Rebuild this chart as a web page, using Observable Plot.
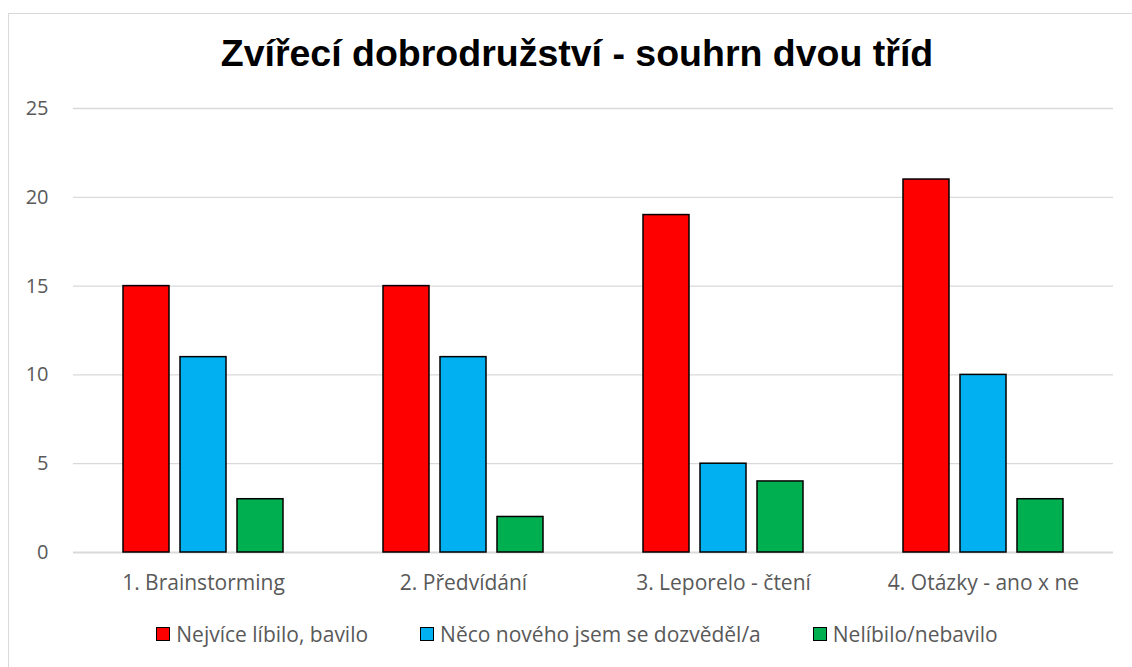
<!DOCTYPE html>
<html>
<head>
<meta charset="utf-8">
<script src="https://cdn.jsdelivr.net/npm/d3@7"></script>
<script src="https://cdn.jsdelivr.net/npm/@observablehq/plot@0.6"></script>
<style>
  html, body { margin: 0; padding: 0; background: #fff; }
  #wrap { position: relative; width: 1132px; height: 667px; overflow: hidden; }
  #frame { position: absolute; left: 8px; top: 13px; width: 1140px; height: 680px; border: 1px solid #d9d9d9; box-sizing: border-box; }
  #title { position: absolute; left: 0; top: 35px; width: 1154px; text-align: center; font-family: "Liberation Sans", Arial, sans-serif; font-weight: bold; font-size: 37.5px; line-height: 37.5px; color: #000; }
  #chart { position: absolute; left: 0; top: 90px; }
  #legend { position: absolute; left: 0; top: 620px; width: 1154px; display: flex; justify-content: center; gap: 52px; font-family: "Open Sans", sans-serif; font-size: 21px; color: #595959; }
  .item { display: flex; align-items: center; gap: 6px; }
  .sw { width: 12px; height: 12px; border: 1.5px solid #000; }
</style>
</head>
<body>
<div id="wrap">
  <div id="frame"></div>
  <div id="title"></div>
  <div id="chart"></div>
  <div id="legend"></div>
</div>
<script>
const titleText = "Zvířecí dobrodružství - souhrn dvou tříd";
const categories = ["1. Brainstorming", "2. Předvídání", "3. Leporelo - čtení", "4. Otázky - ano x ne"];
const seriesNames = ["Nejvíce líbilo, bavilo", "Něco nového jsem se dozvěděl/a", "Nelíbilo/nebavilo"];
const seriesColors = ["#ff0000", "#00b0f0", "#00b050"];
const liked = [15, 15, 19, 21];
const learned = [11, 11, 5, 10];
const disliked = [3, 2, 4, 3];
const yTicks = [0, 5, 10, 15, 20, 25];

const seriesValues = [liked, learned, disliked];
const data = [];
categories.forEach((c, i) => {
  seriesNames.forEach((s, j) => data.push({category: c, series: s, value: seriesValues[j][i]}));
});

document.getElementById("title").textContent = titleText;

const chart = Plot.plot({
  width: 1132,
  height: 510,
  marginLeft: 73,
  marginRight: 19,
  marginTop: 18,
  marginBottom: 48,
  style: {fontFamily: "'Open Sans', sans-serif", fontSize: "21px", color: "#595959", background: "transparent"},
  fx: {domain: categories, padding: 0, axis: "bottom", label: null, tickSize: 0, tickPadding: 23},
  x: {domain: seriesNames, axis: null, paddingInner: 0.2, paddingOuter: 0.86},
  y: {domain: [0, 25], ticks: yTicks, label: null, tickSize: 0, tickPadding: 25, grid: false},
  color: {domain: seriesNames, range: seriesColors},
  marks: [
    Plot.ruleY(yTicks.slice(1), {stroke: "#d9d9d9", strokeWidth: 1.3}),
    Plot.ruleY([0], {stroke: "#d9d9d9", strokeWidth: 2}),
    Plot.barY(data, {fx: "category", x: "series", y: "value", fill: "series", stroke: "#000", strokeWidth: 1.5}),
    Plot.axisY({ticks: yTicks, tickSize: 0, tickPadding: 25, fontSize: 20, label: null})
  ]
});
document.getElementById("chart").appendChild(chart);

const legend = document.getElementById("legend");
seriesNames.forEach((s, j) => {
  const it = document.createElement("div");
  it.className = "item";
  const sw = document.createElement("div");
  sw.className = "sw";
  sw.style.background = seriesColors[j];
  const t = document.createElement("span");
  t.textContent = s;
  it.appendChild(sw);
  it.appendChild(t);
  legend.appendChild(it);
});
</script>
</body>
</html>
